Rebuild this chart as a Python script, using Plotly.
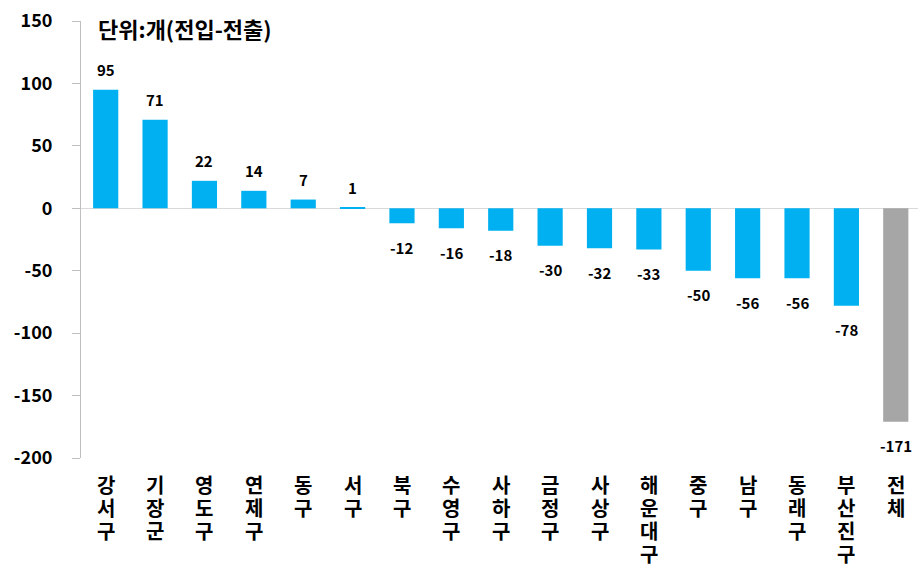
import plotly.graph_objects as go

categories = ["강서구", "기장군", "영도구", "연제구", "동구", "서구", "북구", "수영구", "사하구",
              "금정구", "사상구", "해운대구", "중구", "남구", "동래구", "부산진구", "전체"]
values = [95, 71, 22, 14, 7, 1, -12, -16, -18, -30, -32, -33, -50, -56, -56, -78, -171]
y_ticks = [150, 100, 50, 0, -50, -100, -150, -200]
unit_label = "단위:개(전입-전출)"

colors = ["#00B0F0"] * (len(values) - 1) + ["#A6A6A6"]
xs = list(range(len(categories)))

fig = go.Figure(go.Bar(
    x=xs,
    y=values,
    marker=dict(color=colors, line=dict(width=0)),
    hoverinfo="x+y",
))

annotations = [dict(
    text=unit_label, xref="paper", yref="paper", x=0.0185, y=0.985,
    xanchor="left", yanchor="middle", showarrow=False,
    font=dict(family="Noto Sans CJK KR", size=22, color="#000000", weight="bold"),
)]

# value labels
for i, v in enumerate(values):
    annotations.append(dict(
        text=str(v), xref="x", yref="y", x=i, y=v,
        xanchor="center", yanchor="middle",
        yshift=20 if v >= 0 else -24,
        showarrow=False, borderpad=0,
        font=dict(family="Noto Sans CJK KR", size=15, color="#000000", weight="bold"),
    ))

# vertical (stacked) category labels
for i, cat in enumerate(categories):
    for j, ch in enumerate(cat):
        annotations.append(dict(
            text=ch, xref="x", yref="paper", x=i, y=0,
            xanchor="center", yanchor="top", yshift=-11 - j * 23,
            showarrow=False, borderpad=0,
            font=dict(family="Noto Sans CJK KR", size=20, color="#000000", weight="bold"),
        ))

fig.update_layout(
    width=918, height=580,
    margin=dict(l=81, r=0, t=21, b=122, autoexpand=False),
    paper_bgcolor="white", plot_bgcolor="white",
    bargap=0.49,
    showlegend=False,
    font=dict(family="Noto Sans CJK KR", color="#000000"),
    xaxis=dict(
        range=[-0.5, 16.45],
        showticklabels=False,
        showgrid=False, showline=False, zeroline=False, ticks="",
        automargin=False,
    ),
    yaxis=dict(
        range=[-200, 150],
        tickmode="array",
        tickvals=y_ticks,
        ticktext=[str(t) for t in y_ticks],
        tickfont=dict(family="Noto Sans CJK KR", size=18, color="#000000", weight="bold"),
        showgrid=False,
        showline=True, linecolor="#BFBFBF", linewidth=1,
        ticks="outside", ticklen=8, tickcolor="#BFBFBF",
        zeroline=True, zerolinecolor="#D9D9D9", zerolinewidth=1,
        ticklabelstandoff=16,
        automargin=False,
    ),
    annotations=annotations,
)

fig.write_html("out.html", config={"displayModeBar": False},
               post_script="document.body.style.margin='0';")
